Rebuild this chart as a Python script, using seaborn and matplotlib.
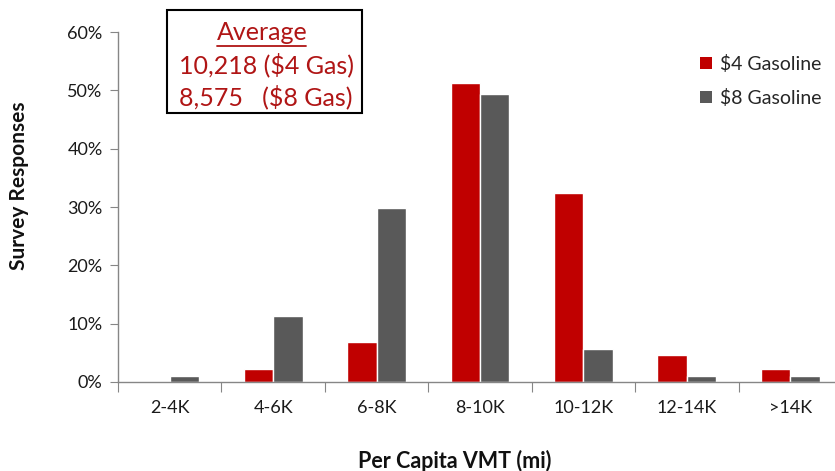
import matplotlib
matplotlib.use("Agg")
import matplotlib.pyplot as plt
import seaborn as sns
import pandas as pd
from matplotlib.lines import Line2D
from matplotlib.patches import Rectangle, Patch
from matplotlib.ticker import FixedLocator, PercentFormatter

categories = ["2-4K", "4-6K", "6-8K", "8-10K", "10-12K", "12-14K", ">14K"]
gas4 = [0.0, 2.2, 6.9, 51.2, 32.4, 4.6, 2.2]
gas8 = [1.1, 11.4, 29.8, 49.4, 5.7, 1.1, 1.1]
series_names = ["$4 Gasoline", "$8 Gasoline"]
yticks = [0, 10, 20, 30, 40, 50, 60]

sns.set_style("white")
plt.rcParams['font.family'] = ['Lato', 'DejaVu Sans']

df = pd.DataFrame({
    "cat": categories * 2,
    "val": gas4 + gas8,
    "series": [series_names[0]] * len(categories) + [series_names[1]] * len(categories),
})

W, H = 835, 471
fig = plt.figure(figsize=(W / 100, H / 100), dpi=100)
left, right, top, bottom = 118, 842, 32, 382
ax = fig.add_axes([left / W, 1 - bottom / H, (right - left) / W, (bottom - top) / H])

colors = {series_names[0]: "#C00000", series_names[1]: "#595959"}
sns.barplot(data=df, x="cat", y="val", hue="series", palette=colors,
            width=0.57, gap=0, ax=ax, legend=False, saturation=1)

ax.set_ylim(0, 60)
ax.set_xlim(-0.5, len(categories) - 0.5)
ax.yaxis.set_major_locator(FixedLocator(yticks))
ax.yaxis.set_major_formatter(PercentFormatter(decimals=0))

# x ticks: boundaries as tick marks, labels at centres
ax.set_xticks([i - 0.5 for i in range(len(categories) + 1)])
ax.set_xticklabels([])
ax.set_xticks(range(len(categories)), minor=True)
ax.set_xticklabels(categories, minor=True)
ax.tick_params(axis="x", which="major", length=7, color="#868686", direction="out", bottom=True)
ax.tick_params(axis="x", which="minor", length=0, labelsize=13, pad=13, colors="#1a1a1a")
ax.tick_params(axis="y", length=6, color="#868686", direction="out", left=True,
               labelsize=13, pad=5, colors="#1a1a1a")

for s in ["top", "right"]:
    ax.spines[s].set_visible(False)
for s in ["left", "bottom"]:
    ax.spines[s].set_color("#868686")
    ax.spines[s].set_linewidth(1.0)

ax.set_xlabel("")
ax.set_ylabel("")
fig.text(19 / W, 1 - 186 / H, "Survey Responses", rotation=90, fontsize=15,
         fontweight="bold", ha="center", va="center", color="#111111")
fig.text(455 / W, 1 - 461 / H, "Per Capita VMT (mi)", fontsize=15.5,
         fontweight="bold", ha="center", va="center", color="#111111")

# Legend
handles = [Patch(facecolor=colors[n], edgecolor="none") for n in series_names]
fig.legend(handles, series_names, loc="upper left", bbox_to_anchor=(700 / W, 1 - 55 / H),
           frameon=False, fontsize=14, handlelength=0.6, handleheight=0.6,
           handletextpad=0.45, labelspacing=0.8, borderaxespad=0, borderpad=0)

# Average box
red = "#B01515"
fig.patches.append(Rectangle((167 / W, 1 - 113 / H), (362 - 167) / W, (113 - 10) / H,
                             transform=fig.transFigure, fill=False,
                             edgecolor="black", linewidth=1.5))
fig.text(262 / W, 1 - 33 / H, "Average", fontsize=18, color=red, ha="center", va="center")
fig.lines.append(Line2D([217 / W, 306 / W], [1 - 46 / H, 1 - 46 / H],
                        transform=fig.transFigure, color=red, linewidth=1.3))
fig.text(179 / W, 1 - 65 / H, "10,218 ($4 Gas)", fontsize=18, color=red, ha="left", va="center")
fig.text(179 / W, 1 - 97 / H, "8,575   ($8 Gas)", fontsize=18, color=red, ha="left", va="center")

fig.savefig("out.png", dpi=100)
